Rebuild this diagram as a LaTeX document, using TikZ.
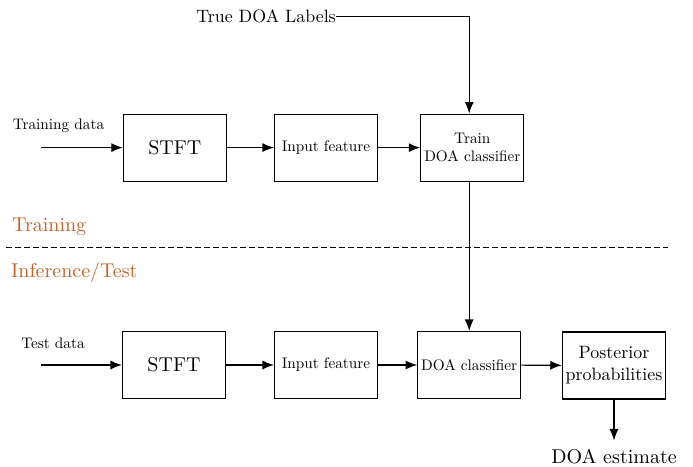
\documentclass[tikz,border=0pt]{standalone}
\usepackage{fontspec}
\setmainfont{lmroman10-regular.otf}
\usetikzlibrary{arrows.meta}
\definecolor{phase}{RGB}{198,98,36}
\begin{document}
\begin{tikzpicture}[x=1pt,y=-1pt,
  blk/.style={draw,line width=1.1pt,minimum width=103pt,minimum height=67pt,inner sep=0pt,align=center},
  big/.style={font=\fontsize{20}{24}\selectfont},
  mid/.style={font=\fontsize{17.9}{21}\selectfont},
  sml/.style={font=\fontsize{15.3}{18.5}\selectfont},
  arr/.style={line width=1.1pt,-{Latex[length=11.5pt,width=9pt]}},
  lbl/.style={inner sep=0pt}]
\useasboundingbox (0,0) rectangle (693,466);
% top row
\node[blk,big] (stft1) at (174.8,147.6) {STFT};
\node[blk,sml] (in1) at (326,147.6) {Input feature};
\node[blk,sml] (train) at (472.3,147.6) {Train\\[-1pt]DOA classifier};
% bottom row
\node[blk,big] (stft2) at (174,365) {STFT};
\node[blk,sml] (in2) at (326,365) {Input feature};
\node[blk,sml] (dc) at (469.2,365) {DOA classifier};
\node[blk,mid,minimum width=103.4pt] (post) at (614,365.5) {Posterior\\[1pt]probabilities};
% labels
\node[lbl,sml,anchor=base] (trd) at (58.5,129.5) {Training data};
\node[lbl,sml,anchor=base] (ted) at (53,348.3) {Test data};
\node[lbl,mid,anchor=east] (tl) at (336,16.5) {True DOA Labels};
\node[lbl,big,anchor=base,inner ysep=8pt] (est) at (614,463) {DOA estimate};
\node[lbl,big,anchor=base west,text=phase] (tr) at (12,231) {Training};
\node[lbl,big,anchor=base west,text=phase] (inf) at (11,277) {Inference/Test};
% free ends
\coordinate (s1) at (41,147.6);
\coordinate (s2) at (41,365);
\coordinate (d1) at (6,247.3);
\coordinate (d2) at (668,247.3);
% connectors
\draw[arr] (s1) -- (stft1.west);
\draw[arr] (stft1) -- (in1);
\draw[arr] (in1) -- (train);
\draw[arr] (s2) -- (stft2.west);
\draw[arr] (stft2) -- (in2);
\draw[arr] (in2) -- (dc);
\draw[arr] (dc) -- (post);
\draw[arr] (tl.east) -| (train.north -| dc.north);
\draw[arr] (train.south -| dc.north) -- (dc.north);
\draw[arr] (post.south) -- (est.north);
\draw[line width=1.1pt,dash pattern=on 5.5pt off 3.5pt] (d1) -- (d2);
\end{tikzpicture}
\end{document}
